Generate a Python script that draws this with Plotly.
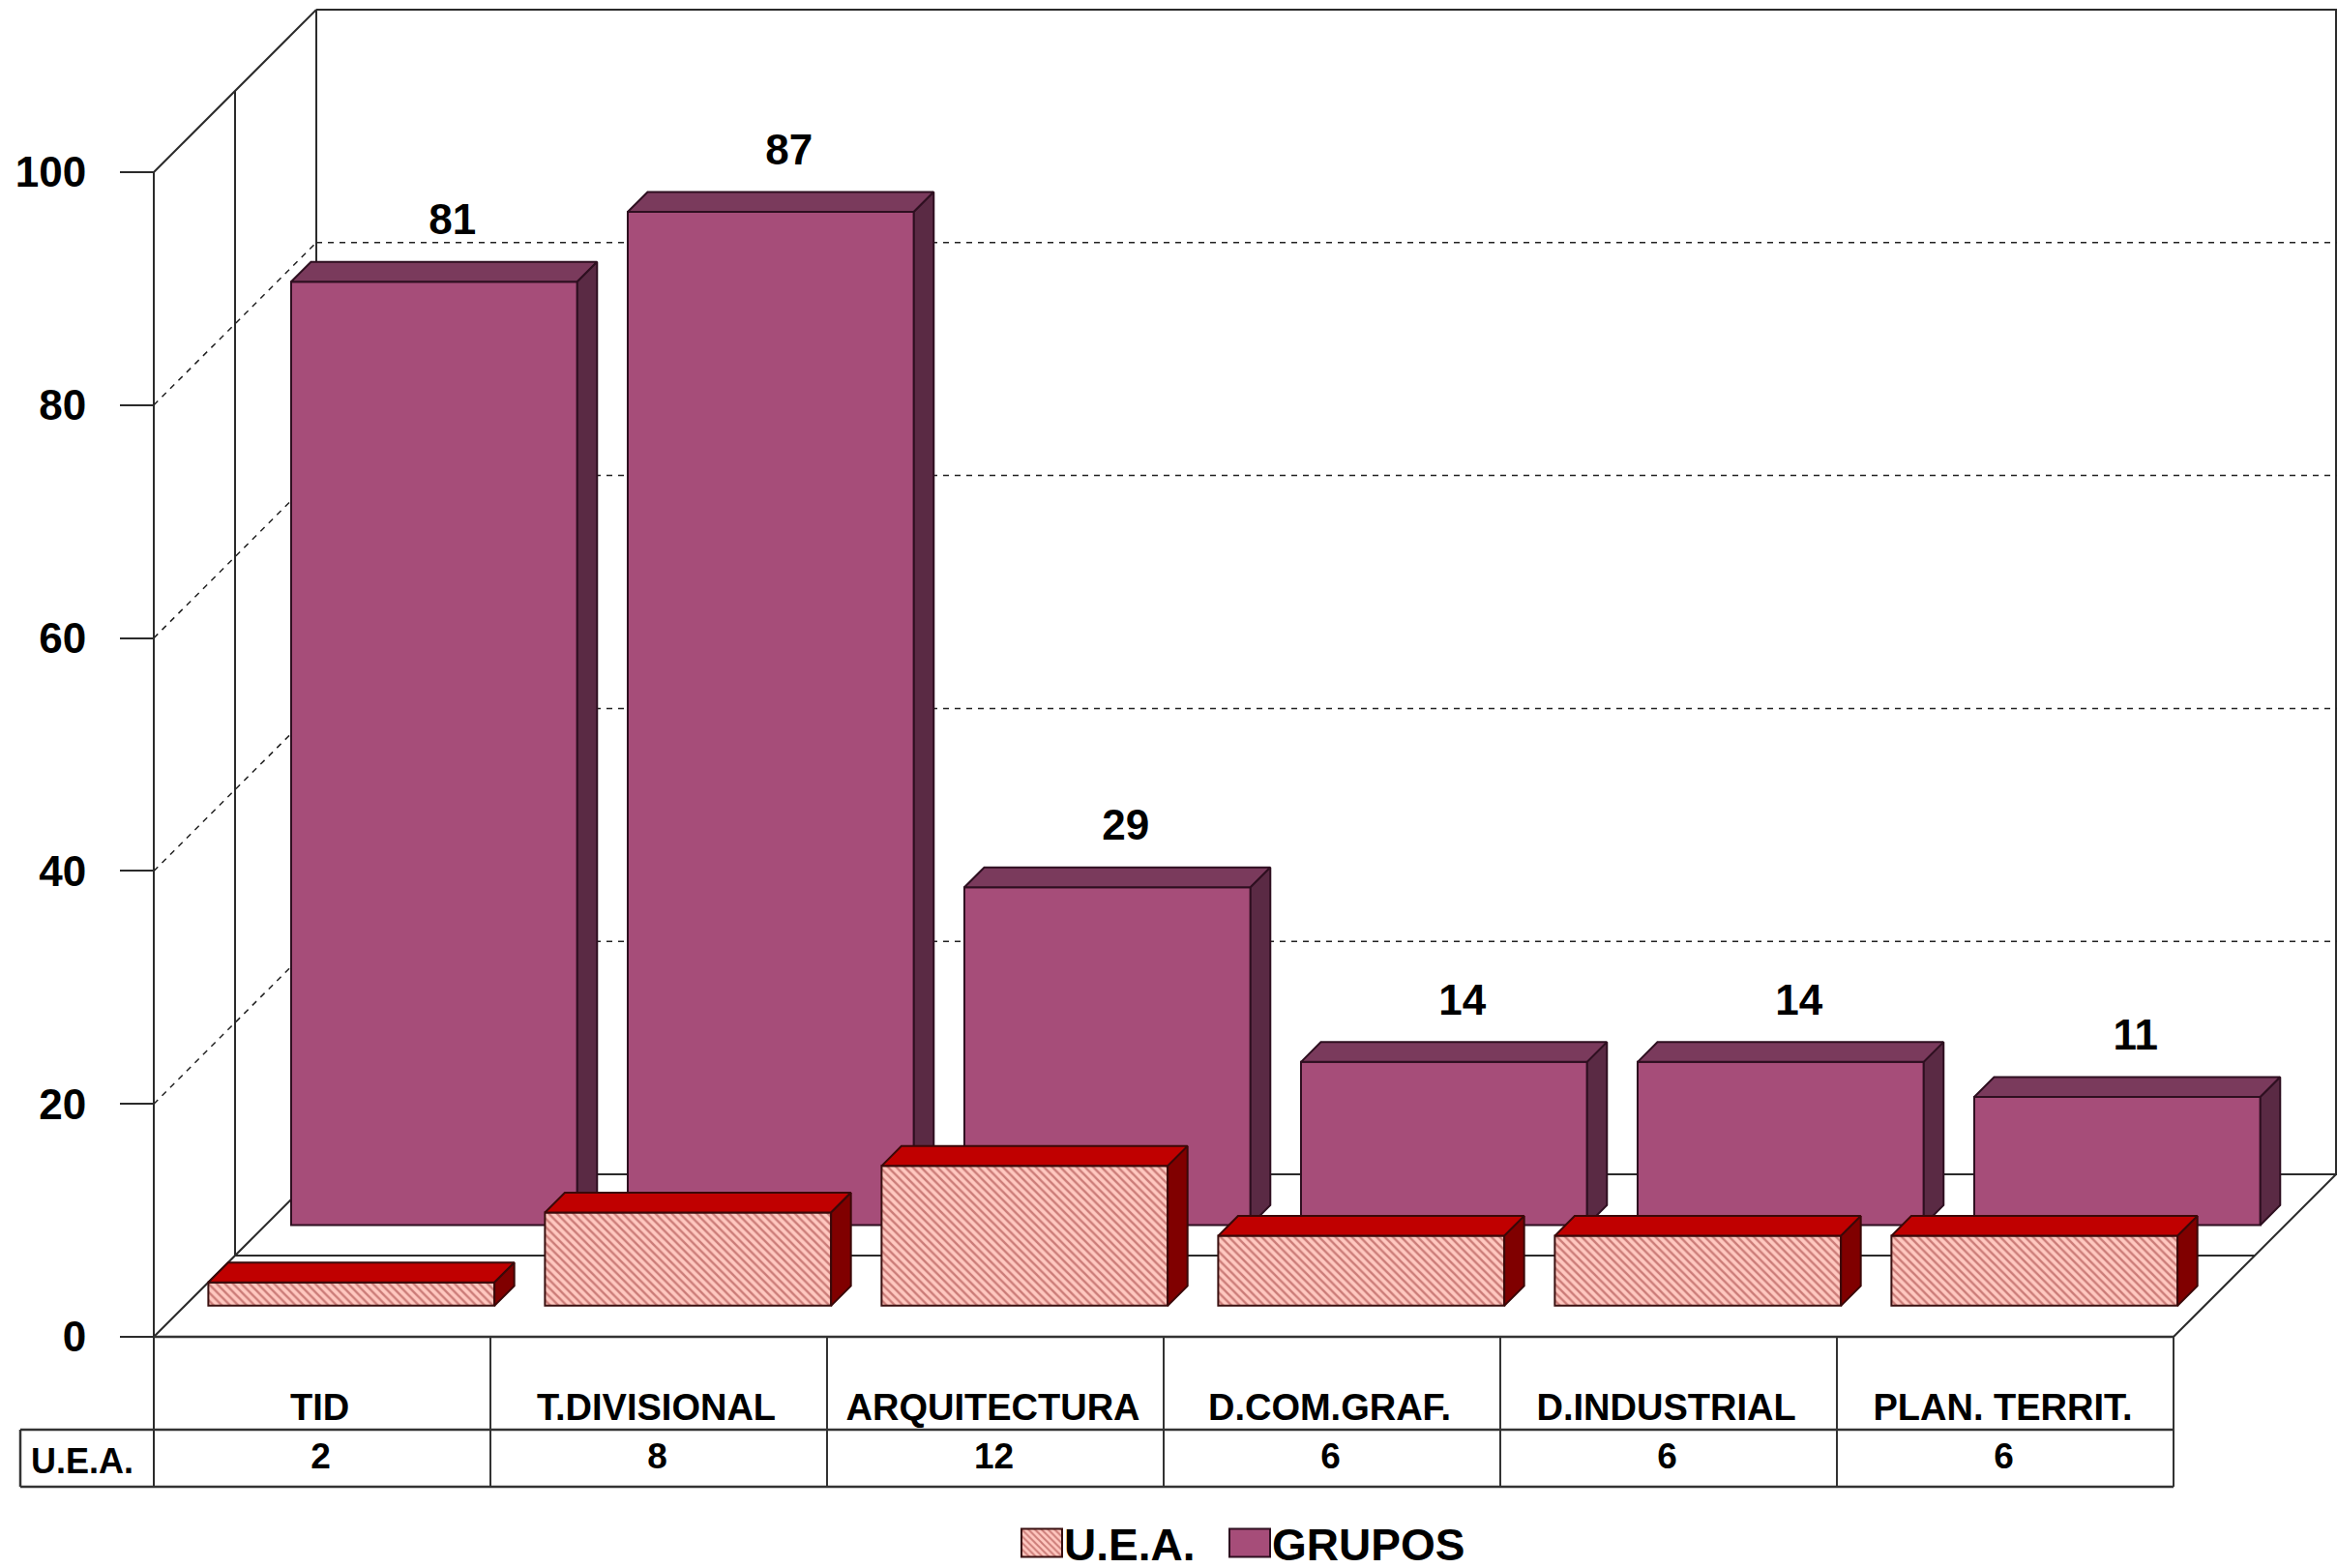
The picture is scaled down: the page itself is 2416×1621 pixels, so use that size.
import plotly.graph_objects as go

# ---- data ----
categories = ["TID", "T.DIVISIONAL", "ARQUITECTURA", "D.COM.GRAF.", "D.INDUSTRIAL", "PLAN. TERRIT."]
uea_values = [2, 8, 12, 6, 6, 6]
grupos_values = [81, 87, 29, 14, 14, 11]
y_ticks = [0, 20, 40, 60, 80, 100]

# ---- geometry of the 3-D look (pixels of the 2416x1621 page) ----
W, H = 2416, 1621
X0, CAT_W = 159, 348      # left of the front plane, width of a category
Y0, UNIT = 1382, 12.04    # value 0 on the front plane, pixels per unit
DEPTH = 168               # full depth of the floor
BAR_DEPTH = 20.5
N = len(categories)


def dx(px):
    return (px - X0) / CAT_W


def dy(py):
    return (Y0 - py) / UNIT


x_range = [dx(0), dx(W)]
y_range = [dy(H), dy(0)]

BAR_W = 0.85
UEA_OFFSET, UEA_BASE = 0.587, 2.67
GRP_OFFSET, GRP_BASE = 0.833, 9.6
DEPTH_X = BAR_DEPTH / CAT_W
DEPTH_Y = BAR_DEPTH / UNIT

LINE = "#2b2b2b"
TEXT = "#000000"
FONT = "Liberation Sans"


def faces(centers, values, base):
    top_x, top_y, side_x, side_y = [], [], [], []
    for c, v in zip(centers, values):
        a, b = c - BAR_W / 2, c + BAR_W / 2
        t = base + v
        top_x += [a, b, b + DEPTH_X, a + DEPTH_X, a, None]
        top_y += [t, t, t + DEPTH_Y, t + DEPTH_Y, t, None]
        side_x += [b, b + DEPTH_X, b + DEPTH_X, b, b, None]
        side_y += [t, t + DEPTH_Y, base + DEPTH_Y, base, t, None]
    return top_x, top_y, side_x, side_y


def add_series(fig, name, values, offset, base, marker, top_color, side_color, edge, xa, ya):
    centers = [i + offset for i in range(N)]
    fig.add_trace(go.Bar(x=centers, y=values, base=base, width=BAR_W, name=name,
                         marker=marker, xaxis=xa, yaxis=ya, hoverinfo="name+y"))
    tx, ty, sx, sy = faces(centers, values, base)
    for fx, fy, col in ((tx, ty, top_color), (sx, sy, side_color)):
        fig.add_trace(go.Scatter(x=fx, y=fy, mode="lines", fill="toself", fillcolor=col,
                                 line=dict(color=edge, width=2), showlegend=False,
                                 hoverinfo="skip", xaxis=xa, yaxis=ya))
    return centers


fig = go.Figure()

grp_centers = add_series(
    fig, "GRUPOS", grupos_values, GRP_OFFSET, GRP_BASE,
    dict(color="#A64D79", line=dict(color="#2E0F20", width=2)),
    "#7A3A5C", "#5A2A44", "#2E0F20", "x", "y")

add_series(
    fig, "U.E.A.", uea_values, UEA_OFFSET, UEA_BASE,
    dict(color="#FFC8C0", line=dict(color="#3A1010", width=2),
         pattern=dict(shape="\\", bgcolor="#FFC8C0", fgcolor="#983030", size=6, solidity=0.4)),
    "#C00000", "#800000", "#3A0808", "x2", "y2")

# value labels over the GRUPOS columns
fig.add_trace(go.Scatter(
    x=[c + 0.054 for c in grp_centers],
    y=[GRP_BASE + v + 5.0 for v in grupos_values],
    text=[str(v) for v in grupos_values], mode="text", textposition="middle center",
    textfont=dict(family=FONT, size=44, color=TEXT, weight="bold"),
    showlegend=False, hoverinfo="skip", xaxis="x2", yaxis="y2"))

# U.E.A. row of the data table
fig.add_trace(go.Scatter(
    x=[i + 0.496 for i in range(N)], y=[dy(1509)] * N,
    text=[str(v) for v in uea_values], mode="text", textposition="middle center",
    textfont=dict(family=FONT, size=37, color=TEXT, weight="bold"),
    showlegend=False, hoverinfo="skip", xaxis="x2", yaxis="y2"))

# ---- walls, floor, grid, table ----
shapes = []


def seg(px0, py0, px1, py1, width=2, dash="solid", color=LINE):
    shapes.append(dict(type="line", xref="x", yref="y", layer="below",
                       x0=dx(px0), y0=dy(py0), x1=dx(px1), y1=dy(py1),
                       line=dict(color=color, width=width, dash=dash)))


front_r = X0 + N * CAT_W
top_front = Y0 - 100 * UNIT
seg(X0, top_front, X0, 1537)                                    # front left edge
seg(X0, top_front, X0 + DEPTH, top_front - DEPTH)               # top diagonal
seg(X0 + DEPTH, top_front - DEPTH, W, top_front - DEPTH)        # top of back wall
seg(X0 + DEPTH, top_front - DEPTH, X0 + DEPTH, Y0 - DEPTH)      # back wall left edge
seg(X0 + DEPTH / 2, top_front - DEPTH / 2, X0 + DEPTH / 2, Y0 - DEPTH / 2)  # mid edge
seg(W - 1, top_front - DEPTH, W - 1, Y0 - DEPTH)                # back wall right edge
seg(X0, Y0, X0 + DEPTH, Y0 - DEPTH)                             # floor left
seg(front_r, Y0, W - 1, Y0 - DEPTH)                             # floor right
seg(X0 + DEPTH, Y0 - DEPTH, W, Y0 - DEPTH)                      # floor back
seg(X0 + DEPTH / 2, Y0 - DEPTH / 2, front_r + DEPTH / 2, Y0 - DEPTH / 2)  # floor middle

for t in y_ticks[1:-1]:
    py = Y0 - t * UNIT
    seg(X0, py, X0 + DEPTH, py - DEPTH, width=1.5, dash="6px,6px", color="#222222")
    seg(X0 + DEPTH, py - DEPTH, W, py - DEPTH, width=1.5, dash="6px,6px", color="#222222")

seg(X0, Y0, front_r, Y0, width=2.5, color="#333333")
seg(21, 1478, front_r, 1478, width=2.5, color="#333333")
seg(21, 1537, front_r, 1537, width=2.5, color="#333333")
seg(21, 1478, 21, 1537, width=2.5, color="#333333")
for i in range(1, N + 1):
    seg(X0 + i * CAT_W, Y0, X0 + i * CAT_W, 1537, width=2, color="#333333")

fig.update_layout(
    width=W, height=H, autosize=False,
    margin=dict(l=0, r=0, t=0, b=0, pad=0),
    paper_bgcolor="white", plot_bgcolor="white",
    barmode="overlay", shapes=shapes,
    font=dict(family=FONT, color=TEXT),
    xaxis=dict(range=x_range, domain=[0, 1], anchor="free", position=1 - Y0 / H,
               tickmode="array", tickvals=[i + 0.493 for i in range(N)], ticktext=categories,
               ticks="", ticklabelstandoff=47, showgrid=False, zeroline=False, showline=False,
               tickfont=dict(family=FONT, size=38, color=TEXT, weight="bold"), automargin=False),
    yaxis=dict(range=y_range, domain=[0, 1], anchor="free", position=X0 / W,
               tickmode="array", tickvals=y_ticks, ticktext=[str(v) for v in y_ticks],
               ticks="outside", ticklen=35, tickwidth=2, tickcolor=LINE, ticklabelstandoff=26,
               showgrid=False, zeroline=False, showline=False,
               tickfont=dict(family=FONT, size=44, color=TEXT, weight="bold"), automargin=False),
    xaxis2=dict(range=x_range, overlaying="x", visible=False, anchor="y2"),
    yaxis2=dict(range=y_range, overlaying="y", visible=False, anchor="x2"),
    legend=dict(orientation="h", x=1042 / W, xanchor="left", y=0, yanchor="bottom",
                traceorder="reversed", bgcolor="rgba(0,0,0,0)", itemwidth=36,
                entrywidth=212, entrywidthmode="pixels",
                font=dict(family=FONT, size=46, color=TEXT, weight="bold")),
    annotations=[dict(xref="x", yref="y", x=dx(85), y=dy(1510), text="<b>U.E.A.</b>",
                      showarrow=False, font=dict(family=FONT, size=36, color=TEXT))],
)

# the page margin is removed; the legend keeps its own entries and only its keys,
# the step between its entries and its final position are adjusted to the reference
post = """
document.documentElement.style.margin='0';
document.body.style.margin='0';
function tuneLegend(){
  document.querySelectorAll('.legend .legendpoints path').forEach(function(p){
    p.setAttribute('d','M21,14.5H-21V-14.5H21Z');
  });
  var entries=document.querySelectorAll('.legend .traces');
  entries.forEach(function(e,i){ e.setAttribute('transform','translate('+(i*215)+',27)'); });
  var lg=document.querySelector('.legend');
  if(lg){ lg.setAttribute('transform','translate(1054,1568)'); }
}
var gd=document.getElementById('{plot_id}');
tuneLegend();
if(gd&&gd.on){gd.on('plotly_afterplot',tuneLegend);}
[50,200,500,1000,2000].forEach(function(t){setTimeout(tuneLegend,t);});
"""
fig.write_html("out.html", post_script=post, config={"displayModeBar": False})
